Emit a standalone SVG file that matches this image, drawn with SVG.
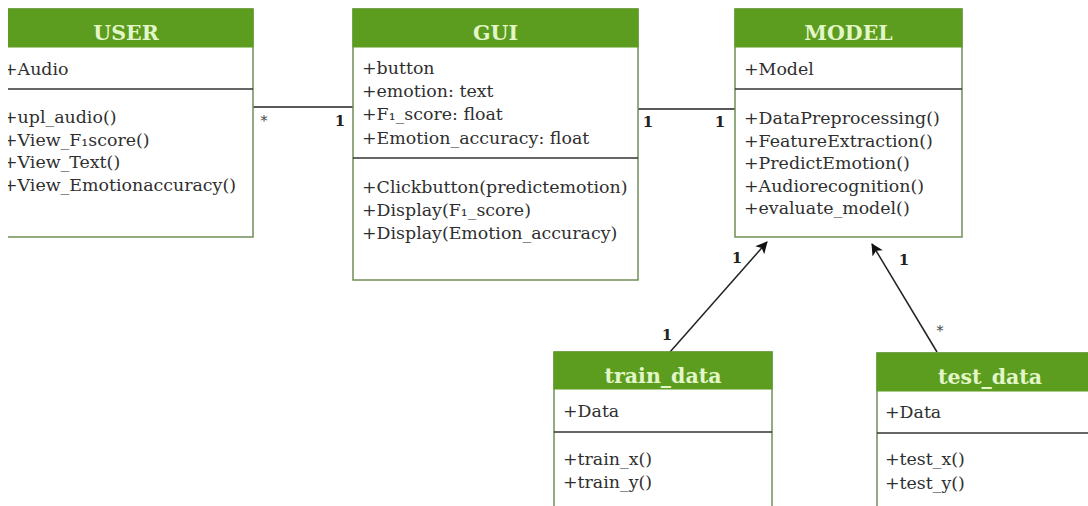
<svg xmlns="http://www.w3.org/2000/svg" width="1088" height="506" viewBox="0 0 1088 506">
  <defs>
    <style>
      .hdr { fill: #5c9c1f; stroke: #5c9c1f; stroke-width: 1; }
      .box { fill: #ffffff; stroke: #6f8f55; stroke-width: 1.5; }
      .div { stroke: #333333; stroke-width: 1.5; }
      .title { font-family: "DejaVu Serif", "Liberation Serif", serif; font-weight: bold; font-size: 20.5px; fill: #e2f6c8; text-anchor: middle; }
      .txt { font-family: "DejaVu Serif", "Liberation Serif", serif; font-size: 17.4px; fill: #2f2f2f; }
      .mult { font-family: "DejaVu Serif", "Liberation Serif", serif; font-weight: bold; font-size: 15px; fill: #222222; text-anchor: middle; }
      .star { font-family: "DejaVu Serif", "Liberation Serif", serif; font-size: 14px; fill: #444444; text-anchor: middle; }
      .conn { stroke: #222222; stroke-width: 1.5; fill: none; }
    </style>
    <marker id="arrow" viewBox="0 0 12 12" refX="11" refY="6" markerWidth="12" markerHeight="12" markerUnits="userSpaceOnUse" orient="auto">
      <path d="M0,0 L12,6 L0,12 L3,6 Z" fill="#111111"/>
    </marker>
    <clipPath id="clipLeft">
      <rect x="8" y="0" width="300" height="300"/>
    </clipPath>
  </defs>

  <rect x="0" y="0" width="1088" height="506" fill="#ffffff"/>

  <!-- associations and dependencies -->
  <g id="connectors">
    <line class="conn" x1="253" y1="107" x2="353" y2="107"/>
    <line class="conn" x1="638" y1="109" x2="735" y2="109"/>
    <line class="conn" x1="670" y1="352" x2="767" y2="242" marker-end="url(#arrow)"/>
    <line class="conn" x1="937" y1="352" x2="872" y2="244" marker-end="url(#arrow)"/>
    <text class="star" x="264" y="126">*</text>
    <text class="mult" x="340" y="126">1</text>
    <text class="mult" x="648" y="127">1</text>
    <text class="mult" x="720" y="127">1</text>
    <text class="mult" x="737" y="263">1</text>
    <text class="mult" x="667" y="340">1</text>
    <text class="mult" x="904" y="265">1</text>
    <text class="star" x="940" y="336">*</text>
  </g>

  <!-- USER class -->
  <g id="user" clip-path="url(#clipLeft)">
    <rect class="box" x="-6" y="9" width="259" height="228"/>
    <rect class="hdr" x="-6" y="9" width="259" height="38"/>
    <text class="title" x="126" y="40">USER</text>
    <text class="txt" x="3" y="75">+Audio</text>
    <line class="div" x1="-6" y1="89" x2="253" y2="89"/>
    <text class="txt" x="3" y="123">+upl_audio()</text>
    <text class="txt" x="3" y="145.5">+View_F₁score()</text>
    <text class="txt" x="3" y="168">+View_Text()</text>
    <text class="txt" x="3" y="190.5">+View_Emotionaccuracy()</text>
  </g>

  <!-- GUI class -->
  <g id="gui">
    <rect class="box" x="353" y="9" width="285" height="271"/>
    <rect class="hdr" x="353" y="9" width="285" height="38"/>
    <text class="title" x="495.5" y="40">GUI</text>
    <text class="txt" x="362" y="74">+button</text>
    <text class="txt" x="362" y="97">+emotion: text</text>
    <text class="txt" x="362" y="120">+F₁_score: float</text>
    <text class="txt" x="362" y="144">+Emotion_accuracy: float</text>
    <line class="div" x1="353" y1="158" x2="638" y2="158"/>
    <text class="txt" x="362" y="193">+Clickbutton(predictemotion)</text>
    <text class="txt" x="362" y="216">+Display(F₁_score)</text>
    <text class="txt" x="362" y="239">+Display(Emotion_accuracy)</text>
  </g>

  <!-- MODEL class -->
  <g id="model">
    <rect class="box" x="735" y="9" width="227" height="228"/>
    <rect class="hdr" x="735" y="9" width="227" height="38"/>
    <text class="title" x="848.5" y="40">MODEL</text>
    <text class="txt" x="744" y="75">+Model</text>
    <line class="div" x1="735" y1="89" x2="962" y2="89"/>
    <text class="txt" x="744" y="124">+DataPreprocessing()</text>
    <text class="txt" x="744" y="146.5">+FeatureExtraction()</text>
    <text class="txt" x="744" y="169">+PredictEmotion()</text>
    <text class="txt" x="744" y="191.5">+Audiorecognition()</text>
    <text class="txt" x="744" y="214">+evaluate_model()</text>
  </g>

  <!-- train_data class -->
  <g id="train_data">
    <rect class="box" x="554" y="352" width="218" height="170"/>
    <rect class="hdr" x="554" y="352" width="218" height="37"/>
    <text class="title" x="663" y="383">train_data</text>
    <text class="txt" x="563" y="417">+Data</text>
    <line class="div" x1="554" y1="432" x2="772" y2="432"/>
    <text class="txt" x="563" y="465">+train_x()</text>
    <text class="txt" x="563" y="488">+train_y()</text>
  </g>

  <!-- test_data class -->
  <g id="test_data">
    <rect class="box" x="877" y="353" width="226" height="170"/>
    <rect class="hdr" x="877" y="353" width="226" height="38"/>
    <text class="title" x="990" y="384">test_data</text>
    <text class="txt" x="885" y="418">+Data</text>
    <line class="div" x1="877" y1="433" x2="1103" y2="433"/>
    <text class="txt" x="885" y="465">+test_x()</text>
    <text class="txt" x="885" y="489">+test_y()</text>
  </g>
</svg>
